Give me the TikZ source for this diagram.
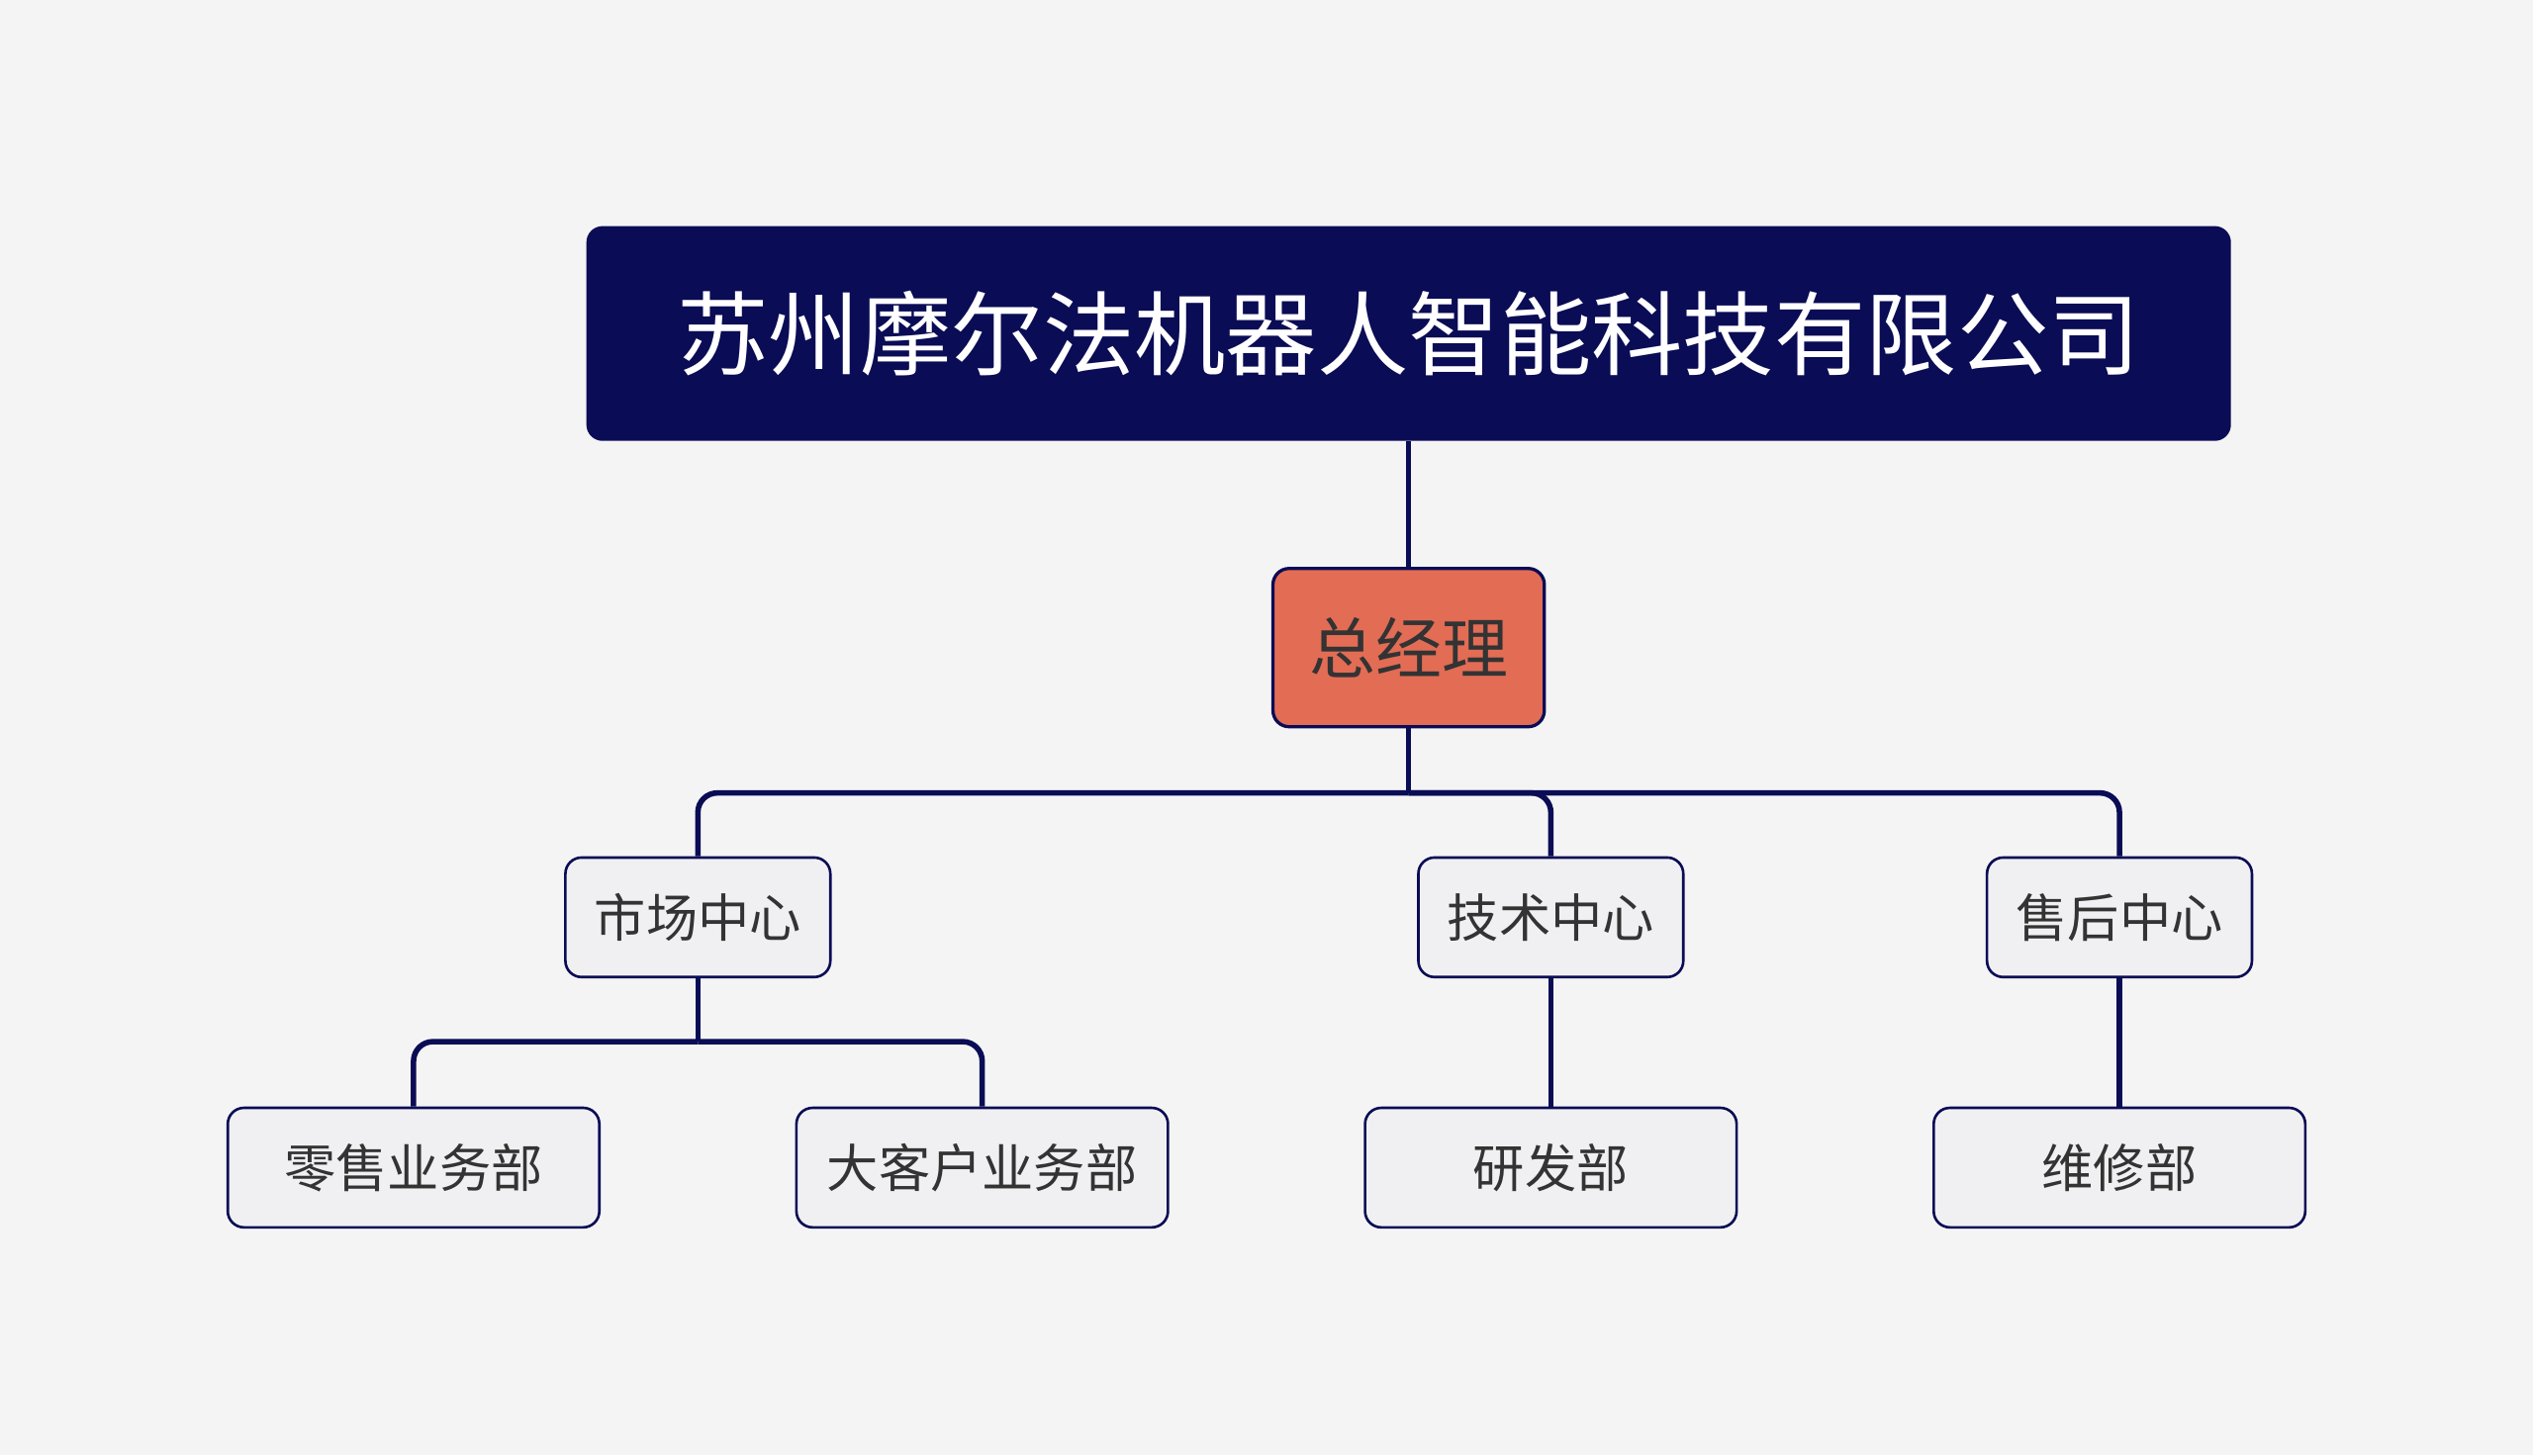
\documentclass[tikz,border=0pt]{standalone}
\usepackage{fontspec}
\newfontfamily\cjk{Noto Sans CJK SC}
\definecolor{navy}{HTML}{0A0C55}
\definecolor{coral}{HTML}{E36C55}
\definecolor{bg}{HTML}{F4F4F4}
\definecolor{boxgray}{HTML}{F0F0F2}
\definecolor{txt}{HTML}{333333}

\begin{document}
\begin{tikzpicture}[x=0.5pt,y=-0.5pt,
   link/.style={draw=navy,line width=1.7pt,rounded corners=6pt},
   topbox/.style={rectangle,rounded corners=5pt,fill=navy,text=white,minimum width=509pt,minimum height=66.5pt,font=\cjk\fontsize{28.3}{32}\selectfont},
   headbox/.style={rectangle,rounded corners=5pt,draw=navy,line width=1pt,fill=coral,text=txt,minimum width=84pt,minimum height=49pt,font=\cjk\fontsize{20.5}{24}\selectfont},
   unitbox/.style={rectangle,rounded corners=5pt,draw=navy,line width=0.8pt,fill=boxgray,text=txt,minimum width=#1,minimum height=37pt,font=\cjk\fontsize{16}{20}\selectfont}]
\fill[bg] (0,0) rectangle (1568,901);
\useasboundingbox (0,0) rectangle (1568,901);
\node[topbox] (company) at (872,206.5) {苏州摩尔法机器人智能科技有限公司};
\node[headbox] (gm) at (872,401) {总经理};
\node[unitbox=82pt] (market) at (432,568) {市场中心};
\node[unitbox=82pt] (tech) at (960,568) {技术中心};
\node[unitbox=82pt] (service) at (1312,568) {售后中心};
\node[unitbox=115pt] (retail) at (256,723) {零售业务部\hspace{16pt}};
\node[unitbox=115pt] (client) at (608,723) {大客户业务部};
\node[unitbox=115pt] (rnd) at (960,723) {研发部};
\node[unitbox=115pt] (repair) at (1312,723) {维修部};
\draw[link] (company) -- (gm);
\coordinate (hub) at (872,491);
\coordinate (sub) at (432,645);
\draw[link] (gm.south) -- (hub);
\foreach \n in {market,tech,service} {
   \draw[link] (hub) -| (\n.north);
}
\draw[link] (market.south) -- (sub);
\foreach \n in {retail,client} {
   \draw[link] (sub) -| (\n.north);
}
\draw[link] (tech) -- (rnd);
\draw[link] (service) -- (repair);
\end{tikzpicture}
\end{document}
